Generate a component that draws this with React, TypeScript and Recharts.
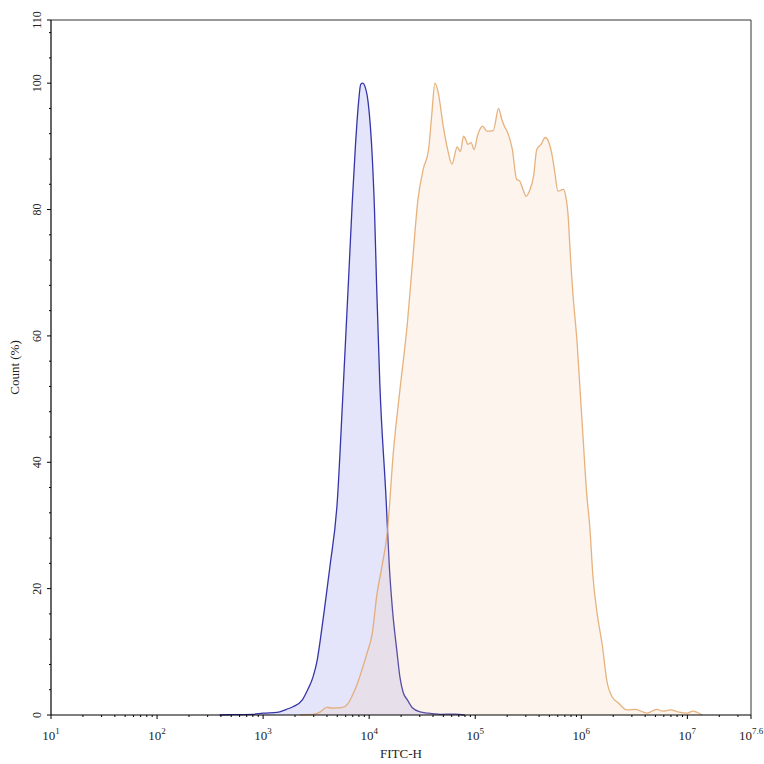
import React from 'react'
import { ComposedChart, Area, XAxis, YAxis, ReferenceLine } from 'recharts'

// decade exponents (log10 of FITC-H) and percent counts
const controlLog = [2.59, 2.71, 2.9, 3.0, 3.13, 3.22, 3.28, 3.37, 3.42, 3.47, 3.51, 3.54, 3.58, 3.63, 3.7, 3.75, 3.81, 3.84, 3.87, 3.9, 3.92, 3.94, 3.96, 3.99, 4.03, 4.05, 4.07, 4.1, 4.16, 4.19, 4.22, 4.26, 4.29, 4.32, 4.36, 4.41, 4.48, 4.55, 4.67, 4.81, 4.9]
const controlPct = [0, 0.05, 0.1, 0.3, 0.4, 0.9, 1.3, 2.4, 4.0, 6.0, 8.7, 12, 17, 23.5, 34, 50, 70.5, 81, 90, 97, 99.8, 100, 99.5, 97, 88, 80, 68, 52.6, 34, 23.5, 16.6, 10.3, 6, 3.6, 2.4, 1.1, 0.5, 0.3, 0.1, 0.15, 0]

const stainedLog = [3.35, 3.47, 3.54, 3.6, 3.66, 3.75, 3.8, 3.85, 3.9, 3.94, 3.98, 4.03, 4.07, 4.12, 4.17, 4.23, 4.29, 4.36, 4.41, 4.46, 4.51, 4.56, 4.59, 4.62, 4.65, 4.7, 4.74, 4.78, 4.83, 4.86, 4.89, 4.91, 4.93, 4.96, 4.99, 5.02, 5.05, 5.07, 5.11, 5.17, 5.22, 5.25, 5.28, 5.3, 5.35, 5.39, 5.42, 5.45, 5.48, 5.51, 5.55, 5.58, 5.62, 5.66, 5.69, 5.72, 5.75, 5.78, 5.83, 5.85, 5.88, 5.89, 5.92, 5.96, 5.99, 6.02, 6.05, 6.08, 6.11, 6.15, 6.2, 6.24, 6.29, 6.35, 6.43, 6.51, 6.62, 6.71, 6.77, 6.84, 6.91, 7.0, 7.05, 7.14]
const stainedPct = [0, 0.1, 0.5, 1.2, 1.1, 1.2, 1.8, 3.4, 5.5, 7.6, 9.8, 13, 18.7, 23.5, 28.8, 42, 51.5, 62, 72, 81.6, 86.4, 89.5, 95, 100, 98.6, 93, 89.5, 87.2, 89.9, 89.2, 91.6, 91.1, 90.3, 90.6, 89.5, 91.6, 92.9, 93.2, 92.4, 92.5, 96, 94.3, 93, 92.4, 89.5, 84.8, 84.5, 83.2, 82.1, 82.9, 85.3, 89.5, 90.3, 91.4, 90.8, 89, 85.9, 82.9, 83.2, 82.4, 78, 74.8, 66.9, 59, 51, 43, 35.2, 29.8, 21.9, 16, 10.8, 5.5, 2.9, 1.9, 0.8, 0.9, 0.3, 0.9, 0.6, 0.8, 0.5, 0.3, 0.6, 0]

const xMajor = [1, 2, 3, 4, 5, 6, 7, 7.6]
const xMajorLabels = ['1', '2', '3', '4', '5', '6', '7', '7.6']
const yMajor = [0, 20, 40, 60, 80, 100, 110]

const controlData = controlLog.map((x, i) => ({ x, y: controlPct[i] }))
const stainedData = stainedLog.map((x, i) => ({ x, y: stainedPct[i] }))

// minor log ticks (2..9 within each decade)
const xMinor: number[] = []
for (let d = 1; d < 8; d++) {
  for (let m = 2; m <= 9; m++) {
    const v = d + Math.log10(m)
    if (v < 7.6) xMinor.push(Number(v.toFixed(4)))
  }
}
const yMinor: number[] = []
for (let v = 4; v < 110; v += 4) if (v % 20 !== 0) yMinor.push(v)

const FONT = '"Liberation Serif", "Times New Roman", serif'

function XTick(props: any) {
  const { x, y, payload } = props
  const idx = xMajor.indexOf(payload.value)
  if (idx < 0) {
    return <line x1={x} x2={x} y1={y} y2={y + 2} stroke="#000" strokeWidth={1} />
  }
  return (
    <g>
      <line x1={x} x2={x} y1={y} y2={y + 4} stroke="#000" strokeWidth={1} />
      <text x={x} y={y + 25} textAnchor="middle" fontFamily={FONT} fontSize={13} fill="#222">
        <tspan>10</tspan>
        <tspan dy={-6} fontSize={9}>{xMajorLabels[idx]}</tspan>
      </text>
    </g>
  )
}

function YTick(props: any) {
  const { x, y, payload } = props
  const major = yMajor.includes(payload.value)
  if (!major) {
    return <line x1={x - 2} x2={x} y1={y} y2={y} stroke="#000" strokeWidth={1} />
  }
  return (
    <g>
      <line x1={x - 4} x2={x} y1={y} y2={y} stroke="#000" strokeWidth={1} />
      <text x={x - 10} y={y} transform={`rotate(-90 ${x - 10} ${y})`} textAnchor="middle" fontFamily={FONT} fontSize={12} fill="#222">
        {payload.value}
      </text>
    </g>
  )
}

export default function App() {
  const xTicks = [...xMajor, ...xMinor].sort((a, b) => a - b)
  const yTicks = [...yMajor, ...yMinor].sort((a, b) => a - b)
  return (
    <div style={{ position: 'absolute', left: 0, top: 0, width: 764, height: 764, background: '#fff' }}>
      <ComposedChart width={764} height={764} margin={{ top: 20, right: 13, bottom: 0, left: 0 }}>
        <XAxis
          dataKey="x"
          type="number"
          domain={[1, 7.6]}
          ticks={xTicks}
          interval={0}
          tickLine={false}
          tickSize={0}
          tickMargin={0}
          tick={XTick}
          height={49}
          axisLine={{ stroke: '#000', strokeWidth: 1.2 }}
          label={{ value: 'FITC-H', position: 'insideBottom', offset: 6, fontFamily: FONT, fontSize: 13, fill: '#222' }}
        />
        <YAxis
          dataKey="y"
          type="number"
          domain={[0, 110]}
          ticks={yTicks}
          interval={0}
          tickLine={false}
          tickSize={0}
          tickMargin={0}
          tick={YTick}
          width={51}
          axisLine={{ stroke: '#000', strokeWidth: 1.2 }}
          label={{ value: 'Count (%)', angle: -90, position: 'insideLeft', offset: 14, fontFamily: FONT, fontSize: 13, fill: '#222', style: { textAnchor: 'middle' } }}
        />
        <ReferenceLine y={110} stroke="#777" strokeWidth={1.5} />
        <ReferenceLine x={7.6} stroke="#333" strokeWidth={1} />
        <Area
          data={controlData}
          dataKey="y"
          type="monotone"
          stroke="#3535a8"
          strokeWidth={1.3}
          fill="#e4e4fb"
          fillOpacity={1}
          dot={false}
          activeDot={false}
          isAnimationActive={false}
        />
        <Area
          data={stainedData}
          dataKey="y"
          type="monotone"
          stroke="#e2a468"
          strokeOpacity={0.85}
          strokeWidth={1.3}
          fill="#f6c89a"
          fillOpacity={0.18}
          dot={false}
          activeDot={false}
          isAnimationActive={false}
        />
      </ComposedChart>
    </div>
  )
}
